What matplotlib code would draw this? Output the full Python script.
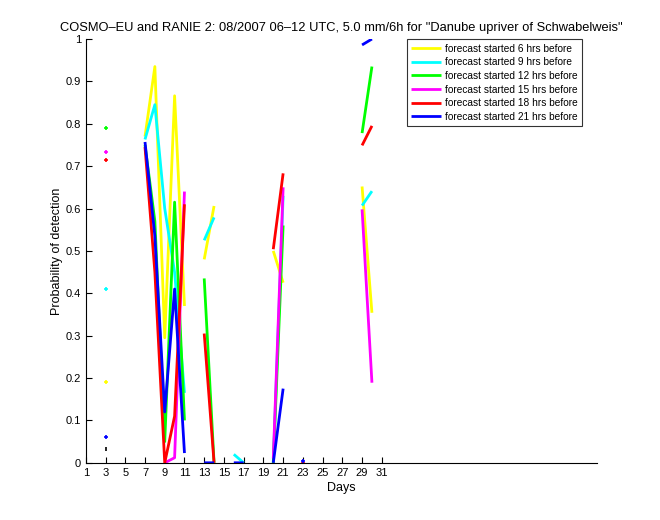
import numpy as np
import matplotlib
matplotlib.use("Agg")
import matplotlib.pyplot as plt

plt.rcParams['font.family'] = ['Liberation Sans', 'DejaVu Sans']

nan = np.nan
days = np.arange(1, 32)

def series(d):
    v = np.full(31, np.nan)
    for k, val in d.items():
        v[k - 1] = val
    return v

yellow = series({3: 0.19, 7: 0.77, 8: 0.935, 9: 0.295, 10: 0.866, 11: 0.37,
                 13: 0.48, 14: 0.606, 20: 0.50, 21: 0.425, 29: 0.652, 30: 0.354})
cyan = series({3: 0.41, 7: 0.763, 8: 0.845, 9: 0.60, 10: 0.45, 11: 0.165,
               13: 0.525, 14: 0.579, 16: 0.02, 17: 0.0, 20: 0.0, 21: 0.63,
               29: 0.607, 30: 0.641})
green = series({3: 0.79, 7: 0.75, 8: 0.57, 9: 0.05, 10: 0.615, 11: 0.10,
                13: 0.435, 14: 0.0, 20: 0.0, 21: 0.56, 29: 0.778, 30: 0.935})
magenta = series({3: 0.733, 9: 0.0, 10: 0.012, 11: 0.64, 20: 0.01, 21: 0.65,
                  29: 0.598, 30: 0.189})
red = series({3: 0.714, 7: 0.745, 8: 0.45, 9: 0.0, 10: 0.11, 11: 0.61,
              13: 0.305, 14: 0.0, 20: 0.504, 21: 0.683, 23: 0.0,
              29: 0.749, 30: 0.795})
blue = series({3: 0.061, 7: 0.757, 8: 0.535, 9: 0.12, 10: 0.41, 11: 0.023,
               13: 0.0, 14: 0.0, 16: 0.0, 17: 0.0, 20: 0.0, 21: 0.175,
               23: 0.005, 29: 0.986, 30: 1.0})
black_day = [3]
black_val = [0.033]

labels = ["forecast started 6 hrs before", "forecast started 9 hrs before",
          "forecast started 12 hrs before", "forecast started 15 hrs before",
          "forecast started 18 hrs before", "forecast started 21 hrs before"]
colors = [(1, 1, 0), (0, 1, 1), (0, 1, 0), (1, 0, 1), (1, 0, 0), (0, 0, 1)]
all_series = [yellow, cyan, green, magenta, red, blue]

xticks = list(range(1, 32, 2))
yticks = [round(0.1 * i, 1) for i in range(11)]
yticklabels = ["0", "0.1", "0.2", "0.3", "0.4", "0.5", "0.6", "0.7", "0.8", "0.9", "1"]

fig = plt.figure(figsize=(6.6, 5.2), dpi=100)
ax = fig.add_axes([0.13, 0.11, 0.775, 0.815])

for s, c, lab in zip(all_series, colors, labels):
    ax.plot(days, s, color=c, lw=2.0, label=lab, solid_capstyle='butt')
    for i in range(31):
        if np.isnan(s[i]):
            continue
        left = np.isnan(s[i - 1]) if i > 0 else True
        right = np.isnan(s[i + 1]) if i < 30 else True
        if left and right:
            ax.plot([days[i]], [s[i]], marker='+', ms=3.5, mew=1.2, color=c, ls='none')

ax.plot(black_day, black_val, marker='|', ms=3, mew=1.2, color='black', ls='none')

ax.set_xlim(1, 52.84)
ax.set_ylim(0, 1)
ax.set_xticks(xticks)
ax.set_yticks(yticks)
ax.set_yticklabels(yticklabels)
ax.tick_params(direction='in', length=4, labelsize=8, width=0.8)
for sp in ['top', 'right']:
    ax.spines[sp].set_visible(False)
for sp in ['left', 'bottom']:
    ax.spines[sp].set_linewidth(0.8)

ax.set_xlabel("Days", fontsize=9, labelpad=3)
ax.set_ylabel("Probability of detection", fontsize=9, labelpad=2)
ax.set_title('COSMO\u2013EU and RANIE 2: 08/2007 06\u201312 UTC, 5.0 mm/6h for "Danube upriver of Schwabelweis"',
             fontsize=9.3, pad=6)

leg = ax.legend(loc='upper right', bbox_to_anchor=(0.9706, 1.0), borderaxespad=0,
                fontsize=7.3, frameon=True, fancybox=False, edgecolor='black',
                handlelength=2.9, handletextpad=0.4, labelspacing=0.36,
                borderpad=0.45)
leg.get_frame().set_linewidth(0.8)

fig.savefig("out.png", dpi=100)
